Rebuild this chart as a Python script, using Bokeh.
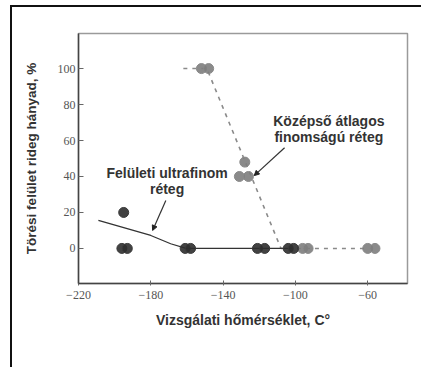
from bokeh.plotting import figure
from bokeh.models import Arrow, NormalHead, Label, FixedTicker
from bokeh.embed import file_html
from bokeh.resources import INLINE

# surface ultrafine layer (dark points)
dark_x = [-196, -193, -195, -161, -158, -121, -117, -104, -101]
dark_y = [0, 0, 20, 0, 0, 0, 0, 0, 0]
# medium layer (gray points)
gray_x = [-152, -148, -128, -131, -126, -96, -93, -60, -56]
gray_y = [100, 100, 48, 40, 40, 0, 0, 0, 0]
# trend lines
solid_x = [-209, -180, -169, -160.5, -102]
solid_y = [15.6, 7.2, 2.6, 0, 0]
dash_x = [-162, -149, -108, -60]
dash_y = [100, 100, 0, 0]

x_ticks = [-220, -180, -140, -100, -60]
y_ticks = [0, 20, 40, 60, 80, 100]

p = figure(width=421, height=367, output_backend="svg", toolbar_location=None,
           x_range=(-220, -38), y_range=(-19.5, 119.5),
           min_border_left=78, min_border_top=33, min_border_right=14, min_border_bottom=84)
p.styles = {
    "background-color": "white",
    "background-image": "linear-gradient(#111,#111), linear-gradient(#111,#111)",
    "background-size": "411px 2px, 2px 362px",
    "background-position": "10px 5px, 10px 5px",
    "background-repeat": "no-repeat",
}
p.grid.visible = False
p.outline_line_color = "#9a9a9a"
p.outline_line_width = 1.5
p.background_fill_color = "white"
p.border_fill_color = None

p.xaxis.ticker = FixedTicker(ticks=x_ticks)
p.yaxis.ticker = FixedTicker(ticks=y_ticks)
p.xaxis.major_label_overrides = {v: "\u2212" + str(abs(v)) for v in x_ticks}
for ax in (p.xaxis[0], p.yaxis[0]):
    ax.axis_line_color = "#444"
    ax.axis_line_width = 1.5
    ax.major_tick_line_color = "#666"
    ax.minor_tick_line_color = None
    ax.major_label_text_font = "Liberation Serif"
    ax.major_label_text_font_size = "12px"
    ax.major_label_text_color = "#555"
    ax.axis_label_text_font = "Liberation Sans"
    ax.axis_label_text_font_style = "bold"
    ax.axis_label_text_font_size = "14px"
    ax.axis_label_text_color = "#333"
p.yaxis.axis_label_text_font_size = "13.5px"
p.xaxis.major_tick_in = 3
p.xaxis.major_tick_out = 2
p.yaxis.major_tick_in = 5
p.yaxis.major_tick_out = 0
p.xaxis.major_label_standoff = 5
p.yaxis.major_label_standoff = 3
p.xaxis.axis_label = "Vizsgálati hőmérséklet, C°"
p.yaxis.axis_label = "Törési felület rideg hányad, %"
p.xaxis.axis_label_standoff = 10
p.yaxis.axis_label_standoff = 16

p.line(dash_x, dash_y, line_color="#8a8a8a", line_width=1.6, line_dash="4 5")
p.line(solid_x, solid_y, line_color="#333", line_width=1.3)
p.scatter(gray_x, gray_y, size=10, fill_color="#7d7d7d", line_color="#8a8a8a", fill_alpha=0.9)
p.scatter(dark_x, dark_y, size=10, fill_color="#2e2e2e", line_color="#3a3a3a", fill_alpha=0.9)

p.add_layout(Arrow(end=NormalHead(size=5, fill_color="#222", line_color="#222"),
                   x_start=-171.7, y_start=26.7, x_end=-179, y_end=10,
                   line_color="#333", line_width=1.2))
p.add_layout(Arrow(end=NormalHead(size=5, fill_color="#222", line_color="#222"),
                   x_start=-106, y_start=56, x_end=-122.8, y_end=40.5,
                   line_color="#333", line_width=1.2))

for txt, x, y in [("Felületi ultrafinom", -171, 41.7), ("réteg", -171, 32.8),
                  ("Középső átlagos", -81.5, 71), ("finomságú réteg", -81.5, 61.7)]:
    p.add_layout(Label(x=x, y=y, text=txt, text_align="center", text_baseline="middle",
                       text_font="Liberation Sans", text_font_style="bold",
                       text_font_size="14px", text_color="#333"))

open("out.html", "w").write(file_html(p, INLINE))
